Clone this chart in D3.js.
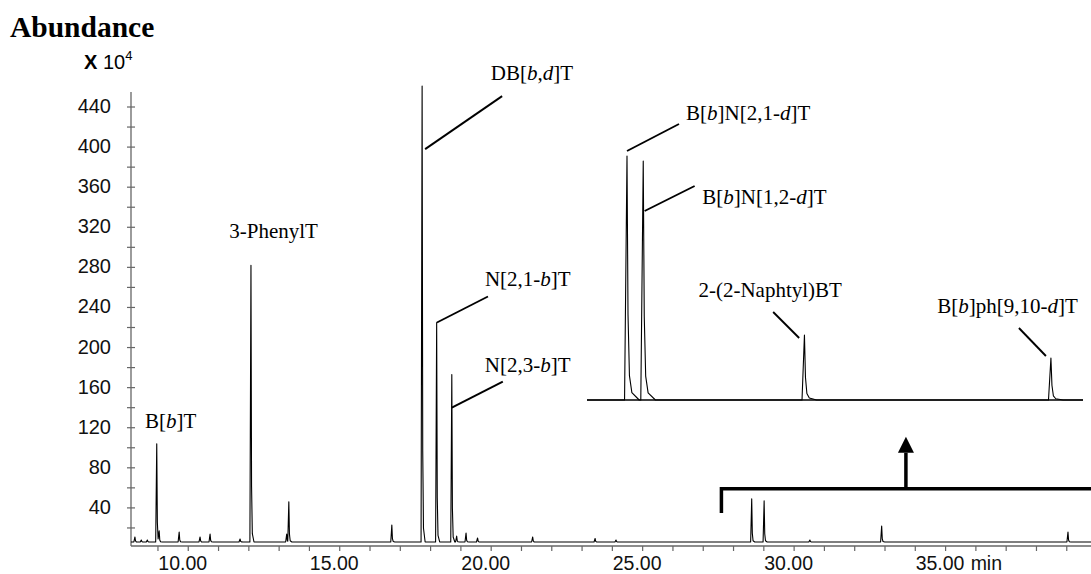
<!DOCTYPE html>
<html><head><meta charset="utf-8">
<script src="https://cdnjs.cloudflare.com/ajax/libs/d3/7.8.5/d3.min.js"></script>
<style>body{margin:0;background:#fff} svg{display:block}</style>
</head><body><svg id="c" width="1091" height="574"></svg>
<script>
// ---------- data ----------
const baseLevel = 6; // baseline abundance (x10^4)
const rtMain = [8.24, 8.45, 8.65, 8.96, 9.04, 9.70, 10.39, 10.72, 11.71, 12.07, 13.25, 13.32, 16.72, 17.72, 18.20, 18.70, 18.86, 19.17, 19.55, 21.37, 23.43, 24.12, 28.60, 29.01, 30.52, 32.89, 39.04];
const abMain = [11, 8, 8, 104, 16, 16, 11, 14, 9, 282, 14, 46, 23, 461, 225, 173, 12, 15, 10, 11, 9.5, 8, 49, 47, 8, 22, 16];
const rtInset = [28.60, 29.00, 32.97, 39.04];
const abInset = [48.8, 47.8, 13, 8.4];
const mainNames = ["B[*b*]T", "3-PhenylT", "DB[*b*,*d*]T", "N[2,1-*b*]T", "N[2,3-*b*]T"];
const mainNameRt = [8.96, 12.07, 17.72, 18.20, 18.70];
const insetNames = ["B[*b*]N[2,1-*d*]T", "B[*b*]N[1,2-*d*]T", "2-(2-Naphtyl)BT", "B[*b*]ph[9,10-*d*]T"];
const yTicks = d3.range(20, 441, 20);
const yLabels = d3.range(40, 441, 40);
const xTicks = d3.range(9, 40, 1);
const xLabels = [10, 15, 20, 25, 30, 35];
const zoomRange = [27.6, 39.8];

// ---------- scales ----------
const svg = d3.select("#c");
const x = d3.scaleLinear().domain([8.11, 39.8]).range([131, 1091]);
const y = d3.scaleLinear().domain([0, 440]).range([548, 107]);
const xi = d3.scaleLinear().domain([27.615, 39.83]).range([587, 1083]);
const yi = d3.scaleLinear().domain([0, 50]).range([400, 150]);

// peak shape templates (minutes offset, fraction)
const tplMain = [[-0.035,0],[0,1],[0.02,0.2],[0.045,0.03],[0.1,0]];
const tplInset = [[-0.06,0],[0,1],[0.025,0.35],[0.06,0.1],[0.12,0.03],[0.3,0]];
function shape(tpl, dt){
  if (dt <= tpl[0][0] || dt >= tpl[tpl.length-1][0]) return 0;
  for (let i=0;i<tpl.length-1;i++){
    const a=tpl[i], b=tpl[i+1];
    if (dt>=a[0] && dt<=b[0]) return a[1] + (b[1]-a[1])*(dt-a[0])/(b[0]-a[0]);
  }
  return 0;
}
function trace(tpl, rts, abs, base, t0, t1){
  let ts = [t0, t1];
  rts.forEach(t => tpl.forEach(p => ts.push(t + p[0])));
  ts = ts.filter(t => t >= t0 && t <= t1).sort((a,b)=>a-b);
  return ts.map(t => [t, base + d3.sum(rts, (r,i) => shape(tpl, t - r) * (abs[i] - base))]);
}

// ---------- axes ----------
const axisCol = "#666";
const gy = svg.append("g");
gy.append("line").attr("x1",131).attr("x2",131).attr("y1",92).attr("y2",546).attr("stroke",axisCol).attr("stroke-width",1.3);
gy.selectAll(".yt").data(yTicks).join("line")
  .attr("x1",127).attr("x2",135).attr("y1",d=>y(d)).attr("y2",d=>y(d))
  .attr("stroke",axisCol).attr("stroke-width",1.2);
gy.selectAll(".yl").data(yLabels).join("text")
  .attr("x",111).attr("y",d=>y(d)).attr("dy","0.3em").attr("text-anchor","end")
  .attr("font-family","Liberation Sans, Arial, sans-serif").attr("font-size",20).attr("fill","#111")
  .text(d=>d);
const gx = svg.append("g");
gx.append("line").attr("x1",131).attr("x2",1091).attr("y1",546).attr("y2",546).attr("stroke",axisCol).attr("stroke-width",1.3);
gx.selectAll(".xt").data(xTicks).join("line")
  .attr("x1",d=>x(d)).attr("x2",d=>x(d)).attr("y1",546).attr("y2",551)
  .attr("stroke",axisCol).attr("stroke-width",1.2);
const xl = gx.selectAll(".xl").data(xLabels).join("text")
  .attr("x",d=>x(d)-5.5).attr("y",569.5).attr("text-anchor","middle")
  .attr("font-family","Liberation Sans, Arial, sans-serif").attr("font-size",19.5).attr("fill","#111")
  .text(d=>d.toFixed(2));
const lastLab = xl.filter(d=>d===35).node().getBBox();
gx.append("text").attr("x",lastLab.x+lastLab.width+6).attr("y",569.5)
  .attr("font-family","Liberation Sans, Arial, sans-serif").attr("font-size",19.5).attr("fill","#111").text("min");

// titles
svg.append("text").attr("x",10).attr("y",37)
  .attr("font-family","Liberation Serif, Times New Roman, serif").attr("font-weight","bold").attr("font-size",29.5)
  .text("Abundance");
const xt = svg.append("text").attr("x",84).attr("y",69).attr("font-family","Liberation Sans, Arial, sans-serif").attr("font-size",20);
xt.append("tspan").attr("font-weight","bold").text("X");
xt.append("tspan").text(" 10");
xt.append("tspan").attr("font-size",13).attr("dy",-9).text("4");

// ---------- main trace ----------
const line = d3.line().x(d=>x(d[0])).y(d=>y(d[1]));
svg.append("path").datum(trace(tplMain, rtMain, abMain, baseLevel, 8.11, 39.8))
  .attr("d", line).attr("fill","none").attr("stroke","#000").attr("stroke-width",1.1).attr("stroke-linejoin","round");

// ---------- inset ----------
const linei = d3.line().x(d=>xi(d[0])).y(d=>yi(d[1]));
svg.append("line").attr("x1",xi(27.615)).attr("x2",xi(39.83)).attr("y1",yi(0)).attr("y2",yi(0))
  .attr("stroke","#000").attr("stroke-width",1.7);
svg.append("path").datum(trace(tplInset, rtInset, abInset, 0, 27.615, 39.83))
  .attr("d", linei).attr("fill","none").attr("stroke","#000").attr("stroke-width",1.1).attr("stroke-linejoin","round");

// ---------- labels ----------
function rich(sel, str){
  str.split("*").forEach((s,i)=>{ if(s.length) sel.append("tspan").attr("font-style", i%2 ? "italic" : "normal").text(s); });
}
function annotate(xs, ys, name, t, a, L){
  const ax = xs(t), ay = ys(a);
  if (L.line) svg.append("line").attr("x1",ax+L.line[0]).attr("y1",ay).attr("x2",ax+L.line[1]).attr("y2",ay+L.line[2])
      .attr("stroke","#000").attr("stroke-width",1.9);
  const tx = svg.append("text").attr("x",ax+L.t[0]).attr("y",ay+L.t[1])
    .attr("font-family","Liberation Serif, Times New Roman, serif").attr("font-size",21).attr("fill","#000");
  rich(tx, name);
}
const mainLayout = [
  {a:104, t:[-11.8,-16]},
  {a:282, t:[-21.7,-27.4]},
  {a:398, line:[3,80,-53], t:[68.6,-69]},
  {a:225, line:[0.3,51.3,-26], t:[48.3,-36.5]},
  {a:140, line:[0,51,-26], t:[33,-36]}
];
mainNames.forEach((n,i)=>annotate(x, y, n, mainNameRt[i], mainLayout[i].a, mainLayout[i]));
const insetLayout = [
  {a:49.8, line:[0,52,-27], t:[59,-31.5]},
  {a:37.8, line:[1.4,51.4,-25], t:[59.1,-7]},
  {a:12.4, line:[-5.3,-31.3,-26], t:[-106,-41]},
  {a:8.8, line:[-5,-32,-28], t:[-113.7,-43]}
];
insetNames.forEach((n,i)=>annotate(xi, yi, n, rtInset[i], insetLayout[i].a, insetLayout[i]));

// ---------- bracket and arrow ----------
const bx0 = x(zoomRange[0]), bx1 = x(zoomRange[1]);
svg.append("path").attr("d",`M${bx0},${y(35)}V${y(59)}H${bx1}`)
  .attr("fill","none").attr("stroke","#000").attr("stroke-width",3.5);
const ax = x((zoomRange[0]+zoomRange[1])/2 - 0.01);
svg.append("line").attr("x1",ax).attr("x2",ax).attr("y1",y(59)).attr("y2",y(95))
  .attr("stroke","#000").attr("stroke-width",3.5);
svg.append("path").attr("d",`M${ax-8},${y(95)}L${ax+8},${y(95)}L${ax},${y(111)}Z`).attr("fill","#000");
</script></body></html>
